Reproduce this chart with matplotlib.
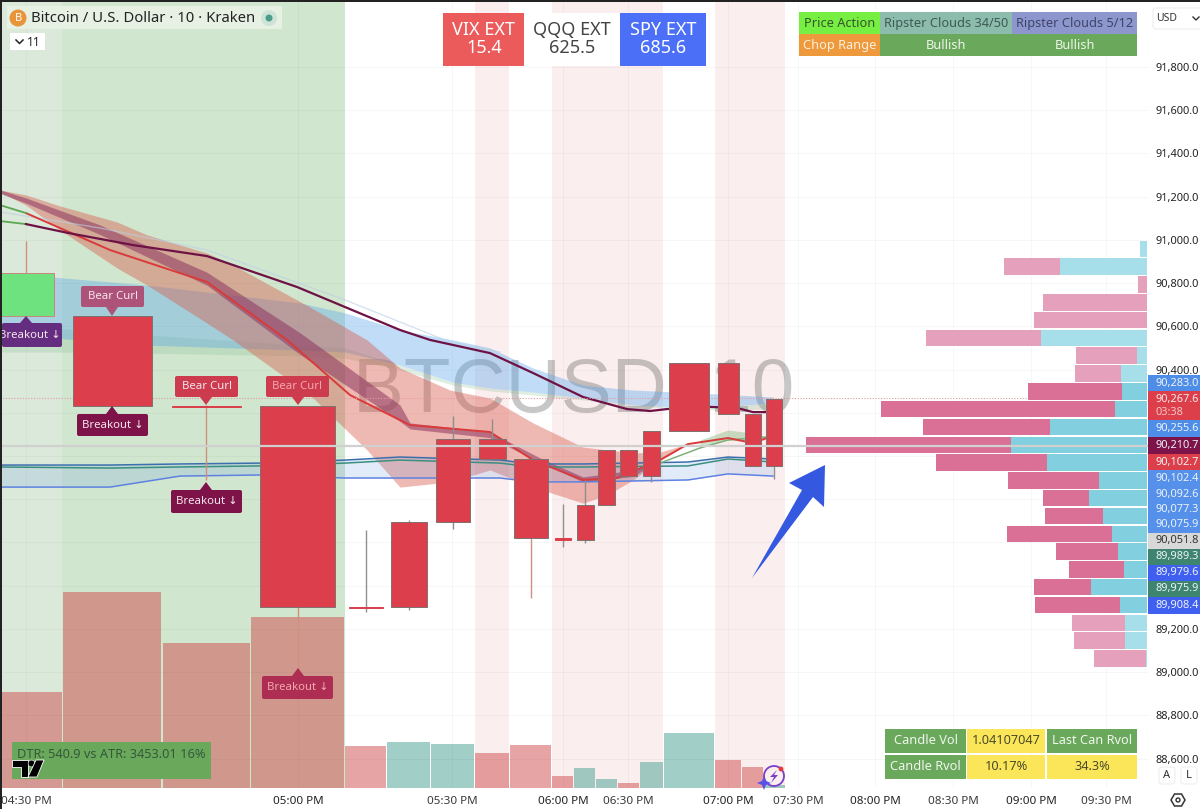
import matplotlib
matplotlib.use("Agg")
import matplotlib.pyplot as plt
from matplotlib.patches import Rectangle, Polygon, Circle, FancyBboxPatch
from matplotlib.ticker import FuncFormatter

FONT = ["Noto Sans", "DejaVu Sans"]
plt.rcParams["font.family"] = FONT

# ---- candles (x = chart position along the volume-weighted time axis, y = price)
candle_left = [0, 73, 172, 260, 349, 391, 436, 479, 514, 555, 577, 598, 620, 643, 669, 718, 745, 766]
candle_right = [54, 152, 241, 335, 383, 427, 470, 506, 548, 571, 594, 615, 637, 660, 709, 739, 761, 782]
candle_top = [90847, 90648, 90233, 90231, 89302, 89694, 90079, 90079, 89986, 89620, 89773, 90028, 90028, 90116, 90430, 90430, 90194, 90264]
candle_bot = [90648, 90231, 90228, 89301, 89298, 89301, 89694, 89986, 89620, 89611, 89611, 89773, 89907, 89907, 90116, 90194, 89954, 89954]
wick_x = [26, 112, 206, 298, 366, 409, 453, 492, 531, 563, 585, 606, 628, 651, 689, 728, 753, 774]
wick_high = [90995, 90648, 90236, 90231, 89657, 89704, 90185, 90171, 89986, 89778, 89889, 90028, 90028, 90116, 90430, 90430, 90194, 90264]
wick_low = [90648, 90231, 89889, 88963, 89278, 89287, 89662, 89986, 89343, 89579, 89597, 89773, 89907, 89880, 90116, 90194, 89954, 89893]

# ---- volume
vol_left = [0, 63, 163, 251, 345, 387, 431, 475, 510, 552, 574, 596, 618, 640, 664, 715, 742, 764]
vol_right = [62, 161, 250, 344, 386, 430, 474, 509, 551, 573, 595, 617, 639, 663, 714, 741, 763, 785]
vol_value = [96, 196, 145, 171, 42, 46, 44, 35, 43, 12, 20, 9, 5, 26, 55, 28, 21, 3]
vol_is_up = [0, 0, 0, 0, 0, 1, 1, 0, 0, 0, 1, 1, 0, 1, 1, 0, 0, 1]

# ---- moving averages
slow_x = [0, 26, 68, 133, 207, 297, 400, 430, 490, 533, 583, 627, 650, 667, 710, 737, 753, 767]
slow_y = [91087, 91073, 91032, 90976, 90925, 90782, 90583, 90537, 90476, 90384, 90273, 90217, 90208, 90217, 90227, 90222, 90203, 90203]
fast_x = [0, 26, 110, 207, 287, 350, 410, 490, 533, 583, 617, 660, 688, 728, 753, 767]
fast_y = [91161, 91124, 90953, 90805, 90537, 90282, 90143, 90111, 89981, 89889, 89898, 89981, 90055, 90083, 90060, 90083]
ribbon_x = [0, 26, 100, 207, 300, 400, 410, 490, 540, 583, 633, 660]
ribbon_top = [91231, 91194, 91069, 90850, 90570, 90236, 90153, 90111, 89991, 89903, 89935, 89981]
ribbon_bot = [91215, 91170, 91025, 90790, 90470, 90160, 90125, 90085, 89970, 89880, 89905, 89981]
red_x = [0, 26, 60, 117, 147, 207, 233, 310, 367, 400, 450, 490, 533, 583, 607, 633, 660, 687]
red_top = [91231, 91208, 91157, 91083, 91023, 90939, 90884, 90689, 90537, 90407, 90305, 90268, 90153, 90041, 90028, 90014, 90018, 90055]
red_bot = [91222, 91161, 91046, 90870, 90791, 90615, 90537, 90282, 90028, 89856, 89880, 89935, 89856, 89782, 89819, 89889, 89981, 90055]
blue_x = [0, 53, 147, 300, 345, 400, 453, 490, 533, 583, 633, 700, 773]
blue_top = [90828, 90828, 90791, 90708, 90662, 90583, 90537, 90500, 90407, 90328, 90305, 90291, 90273]
blue_bot = [90560, 90546, 90513, 90490, 90481, 90421, 90342, 90314, 90296, 90268, 90236, 90222, 90245]
pale_top = [90606, 90592, 90560, 90513, 90500, 90421, 90342, 90314, 90296, 90268, 90236, 90222, 90245]
pale_bot = [90481, 90481, 90476, 90463, 90453, 90398, 90328, 90301, 90282, 90259, 90231, 90213, 90217]
faint_x = [0, 100, 207, 345, 400, 450, 500]
faint_y = [91129, 91055, 90953, 90722, 90620, 90527, 90481]
low_x = [0, 110, 180, 260, 345, 400, 500, 533, 583, 688, 728, 773]
low_blue = [89856, 89856, 89907, 89912, 89898, 89898, 89898, 89880, 89880, 89889, 89917, 89907]
low_teal1 = [89958, 89958, 89963, 89967, 89981, 89995, 89981, 89963, 89963, 89972, 89995, 89986]
low_teal2 = [89949, 89944, 89949, 89954, 89967, 89981, 89967, 89949, 89949, 89954, 89986, 89972]
green_x = [660, 700, 728, 767]
green_y = [89967, 90037, 90074, 90088]
greenfill_x = [700, 728, 753, 767]
greenfill_top = [90074, 90120, 90106, 90088]
greenfill_bot = [90037, 90074, 90065, 90088]

# ---- volume profile
prof_price = [90958, 90876, 90793, 90711, 90629, 90546, 90464, 90381, 90299, 90217, 90134, 90052,
              89970, 89887, 89805, 89722, 89640, 89558, 89475, 89393, 89311, 89228, 89146, 89063]
prof_sell = [0, 56, 9, 104, 113, 115, 61, 46, 94, 234, 127, 205, 111, 91, 46, 58, 105, 62, 55, 57, 85, 53, 51, 52]
prof_buy = [7, 87, 0, 0, 0, 106, 10, 26, 25, 32, 97, 136, 100, 48, 58, 44, 35, 29, 23, 56, 27, 22, 22, 1]
prof_value_area = [0, 0, 0, 0, 0, 0, 0, 0, 1, 1, 1, 1, 1, 1, 1, 1, 1, 1, 1, 1, 1, 0, 0, 0]

# ---- axes labels
time_pos = [26, 298, 452, 563, 628, 728, 798, 875, 953, 1031, 1106]
time_lab = ["04:30 PM", "05:00 PM", "05:30 PM", "06:00 PM", "06:30 PM", "07:00 PM", "07:30 PM",
            "08:00 PM", "08:30 PM", "09:00 PM", "09:30 PM"]
time_bold = [0, 1, 0, 1, 0, 1, 0, 1, 0, 1, 0]
price_ticks = [91800, 91600, 91400, 91200, 91000, 90800, 90600, 90400, 89200, 89000, 88800, 88600]
last_price = 90048
close_price = 90267.6

pill_text = ["90,283.0", "90,267.6", "90,255.6", "90,210.7", "90,102.7", "90,102.4", "90,092.6", "90,077.3",
             "90,075.9", "90,051.8", "89,989.3", "89,979.6", "89,975.9", "89,908.4"]
pill_top = [375, 391, 420, 437, 454, 470, 486, 502, 517, 533, 549, 565, 581, 597]
pill_bot = [391, 420, 437, 454, 470, 486, 502, 517, 533, 549, 565, 581, 597, 614]
pill_col = ["#4f8ee8", "#dc3f4a", "#4f8ee8", "#7d1349", "#dc3f4a", "#5590ea", "#5590ea", "#5590ea", "#5590ea",
            "#d8d8d8", "#3e8570", "#3f5ff0", "#3e8570", "#3f5ff0"]

fig = plt.figure(figsize=(12, 8.09), dpi=100, facecolor="white")
W, H = 1200.0, 809.0
PLOT = [0, (H - 788) / H, 1149 / W, 788 / H]

# background axes: session bands and volume histogram
vx = fig.add_axes(PLOT)
vx.set_xlim(0, 1149)
vx.set_ylim(0, 788)
vx.axis("off")
vx.axvspan(0, 62, color="#dbe9da", lw=0, zorder=0)
vx.axvspan(62, 344.5, color="#d0e6ce", lw=0, zorder=0)
for a, b in [(475, 509), (552, 663), (715, 785)]:
    vx.axvspan(a, b, color="#fbeeee", lw=0, zorder=0)
for l, r, v, up in zip(vol_left, vol_right, vol_value, vol_is_up):
    vx.bar(l, v, width=r - l, align="edge", color="#479f93" if up else "#d14b4d", alpha=0.5, lw=0, zorder=2)

# price axes
ax = fig.add_axes(PLOT, facecolor="none")
ax.set_xlim(0, 1149)
ax.set_ylim(88463.5, 92110)
for s in ax.spines.values():
    s.set_visible(False)
ax.yaxis.tick_right()
ax.set_yticks(price_ticks)
ax.yaxis.set_major_formatter(FuncFormatter(lambda v, _: f"{v:,.1f}"))
ax.set_xticks(time_pos)
ax.set_xticklabels(time_lab)
ax.tick_params(axis="y", length=0, pad=4.4, labelsize=7.9, labelcolor="#222222")
ax.tick_params(axis="x", length=0, pad=6, labelsize=8.4, labelcolor="#3a3a3a")
for t, b in zip(ax.get_xticklabels(), time_bold):
    if b:
        t.set_fontweight("bold")
        t.set_color("#222222")
for v in price_ticks + [90200, 90000, 89800, 89600, 89400]:
    ax.axhline(v, color="#000000", alpha=0.03, lw=0.8, zorder=0.5)
for v in time_pos:
    ax.axvline(v, color="#000000", alpha=0.03, lw=0.8, zorder=0.5)

# watermark
ax.text(574, 90296, "BTCUSD, 10", family=["Liberation Sans"], fontsize=55, color="#555555", alpha=0.33,
        ha="center", va="center", zorder=1)

# clouds
ax.fill_between(blue_x, pale_top, pale_bot, color="#8ec29a", alpha=0.28, lw=0, zorder=2)
ax.fill_between(blue_x, blue_top, blue_bot, color="#5aa5ea", alpha=0.38, lw=0, zorder=2.1)
ax.fill_between(red_x, red_top, red_bot, color="#d9594a", alpha=0.42, lw=0, zorder=2.2)
ax.fill_between(low_x, low_teal1, low_blue, color="#6f9fe8", alpha=0.2, lw=0, zorder=2.3)
ax.fill_between(greenfill_x, greenfill_top, greenfill_bot, color="#7ab77a", alpha=0.4, lw=0, zorder=2.3)
ax.fill_between(ribbon_x, ribbon_top, ribbon_bot, color="#8c3560", alpha=0.55, lw=0, zorder=2.4)

# lines
ax.plot(faint_x, faint_y, color="#bcd0e6", lw=1, alpha=0.6, zorder=2.5)
ax.plot(low_x, low_blue, color="#5f82e0", lw=1.1, zorder=2.6)
ax.plot(low_x, low_teal1, color="#3b6fae", lw=1.1, zorder=2.6)
ax.plot(low_x, low_teal2, color="#3a8f80", lw=1.1, zorder=2.6)
ax.plot(green_x, green_y, color="#7fb07a", lw=1.1, zorder=2.6)
ax.plot(slow_x[:2], slow_y[:2], color="#5aa850", lw=1.3, zorder=2.7)
ax.plot(slow_x[1:], slow_y[1:], color="#6e1246", lw=1.6, zorder=2.7)
ax.plot(fast_x[:2], fast_y[:2], color="#5aa850", lw=1.3, zorder=2.7)
ax.plot(fast_x[1:], fast_y[1:], color="#d93a3a", lw=1.4, zorder=2.65)

# candles
for i, (l, r, t, b, wx, hi, lo) in enumerate(zip(candle_left, candle_right, candle_top, candle_bot, wick_x, wick_high, wick_low)):
    up = i == 0
    ax.plot([wx, wx], [lo, hi], color="#d09080" if i in (0, 2, 3, 8) else "#8f8f8f", lw=1, zorder=3, solid_capstyle="butt")
    thin = (t - b) < 15
    ax.bar(l, t - b, bottom=b, width=r - l, align="edge", color="#6ee27f" if up else "#dc3e4b",
           edgecolor="#c8867c" if up else ("#dc3e4b" if thin else "#80706f"), lw=0.7, zorder=3.2)

# profile
xr = 1147
for p, s, b, v in zip(prof_price, prof_sell, prof_buy, prof_value_area):
    ax.barh(p, b, left=xr - b, height=76, color="#82cfdf" if v else "#a6dfe9", lw=0, zorder=4)
    ax.barh(p, s, left=xr - b - s, height=76, color="#db7097" if v else "#e5a0bb", lw=0, zorder=4)

ax.axhline(last_price, color="#d0d0d0", lw=1.6, zorder=5)
ax.plot([0, 1030], [close_price, close_price], color="#e39aa0", lw=0.8, ls=(0, (1, 1.5)), zorder=2.8)

# ---- overlay in figure pixels for widgets
ui = fig.add_axes([0, 0, 1, 1], facecolor="none")
ui.set_xlim(0, W)
ui.set_ylim(H, 0)
ui.axis("off")
ui.set_zorder(10)


def rect(x0, x1, y0, y1, c, z=2, **k):
    ui.add_patch(Rectangle((x0, y0), x1 - x0, y1 - y0, facecolor=c, edgecolor="none", zorder=z, **k))


def txt(x, y, s, size=8.5, c="#333333", ha="center", **k):
    ui.text(x, y, s, fontsize=size, color=c, ha=ha, va="center", zorder=6, **k)


def bubble(x0, x1, y0, y1, col, s, tx, ty, tc="#f5e6ec", tcx=None):
    ui.add_patch(FancyBboxPatch((x0 + 2, y0 + 2), x1 - x0 - 4, y1 - y0 - 4, boxstyle="round,pad=2,rounding_size=2",
                                facecolor=col, edgecolor="none", zorder=5, clip_on=True))
    by = y1 if ty > y1 else y0
    ui.add_patch(Polygon([(tx - 6, by), (tx + 6, by), (tx, ty)], facecolor=col, edgecolor="none", zorder=5))
    txt((x0 + x1) / 2 if tcx is None else tcx, (y0 + y1) / 2, s, 8.2, tc)


# frame
rect(0, 2, 0, 809, "#222222", 8)
rect(0, 1200, 0, 2, "#222222", 8)

# legend top-left
rect(7, 282, 6, 29, "#e6f1e4", 3)
ui.add_patch(Circle((18, 18), 8.5, facecolor="#e8943a", edgecolor="none", zorder=4))
txt(18, 18, "B", 8, "white", fontweight="bold")
txt(31, 18, "Bitcoin / U.S. Dollar · 10 · Kraken", 10.7, "#222222", ha="left")
ui.add_patch(Circle((269, 18), 8, facecolor="#cfe3d8", edgecolor="none", zorder=4))
ui.add_patch(Circle((269, 18), 3.5, facecolor="#4a9d87", edgecolor="none", zorder=5))
rect(10, 44.5, 33, 50, "white", 3)
ui.plot([16, 19.5, 23], [40, 43.5, 40], color="#222222", lw=1.1, zorder=5)
txt(34, 42, "11", 8.8, "#222222")

# top badges
rect(443, 524, 13, 66, "#ec5b5b", 3)
rect(524, 620, 13, 66, "white", 3)
rect(620, 706, 13, 66, "#4b70f7", 3)
for x, a, b, c in [(484, "VIX EXT", "15.4", "white"), (572, "QQQ EXT", "625.5", "#444444"), (663, "SPY EXT", "685.6", "white")]:
    txt(x, 30, a, 13, c)
    txt(x, 48, b, 13, c)

# top-right table
rect(799, 880, 12, 34, "#76ee42", 3)
rect(880, 1012, 12, 34, "#8cbcab", 3)
rect(1012, 1137, 12, 34, "#8d97cd", 3)
rect(799, 880, 34, 56, "#ee9a3c", 3)
rect(880, 1137, 34, 56, "#6aa85c", 3)
txt(839.5, 23, "Price Action", 9.2, "#33552a")
txt(946, 23, "Ripster Clouds 34/50", 9.2, "#3d5a55")
txt(1074.5, 23, "Ripster Clouds 5/12", 9.2, "#3f4468")
txt(839.5, 45, "Chop Range", 9.2, "#fdf0dd")
txt(946, 45, "Bullish", 9.2, "#eef6ea")
txt(1075, 45, "Bullish", 9.2, "#eef6ea")

# USD selector
ui.add_patch(FancyBboxPatch((1153, 8), 50, 21, boxstyle="round,pad=0,rounding_size=3", facecolor="white",
                            edgecolor="#eeeeee", lw=0.8, zorder=4))
txt(1156, 18, "USD", 7.5, "#333333", ha="left")
ui.plot([1193, 1196, 1199], [17, 20, 17], color="#333333", lw=1, zorder=5)

# price pills
for s, a, b, c in zip(pill_text, pill_top, pill_bot, pill_col):
    rect(1148, 1200, a, b - 0.3, c, 4)
    if s == "90,267.6":
        txt(1155, a + 8, s, 7.9, "#f6e9ea", ha="left")
        txt(1155, a + 21.5, "03:38", 7.9, "#f3c5c8", ha="left")
    else:
        txt(1155, (a + b) / 2, s, 7.9, "#333333" if c == "#d8d8d8" else "#eef2f8", ha="left")

# signals
bubble(81, 144, 286, 307, "#ad5379", "Bear Curl", 112, 316)
bubble(2, 62, 323, 347, "#642d80", "Breakout ↓", 26, 316, tcx=30)
bubble(77, 148, 414, 436, "#7d1349", "Breakout ↓", 112, 406)
bubble(175, 238, 376, 397, "#cc3b4e", "Bear Curl", 206, 405)
bubble(171, 242, 490, 513, "#7d1349", "Breakout ↓", 206, 482)
bubble(266, 329, 376, 397, "#cc3b4e", "Bear Curl", 298, 405, "#f3a8b0")
bubble(262, 333, 676, 699, "#ae2d52", "Breakout ↓", 298, 668, "#f3a8b0")

# arrow
ui.add_patch(Polygon([(752, 578), (802, 490), (789, 483), (825, 465), (824, 507), (813, 497), (752, 578)],
                     facecolor="#3558e0", edgecolor="none", zorder=6))

# DTR
rect(12, 211, 742, 779, "#6aa85c", 3)
txt(17, 754, "DTR: 540.9 vs ATR: 3453.01 16%", 9.2, "#35593a", ha="left")
# logo
ui.add_patch(Polygon([(12, 760), (28, 760), (28, 777), (21, 777), (21, 767), (12, 767)], facecolor="black",
                     edgecolor="white", lw=0.6, zorder=7))
ui.add_patch(Circle((31.5, 763.5), 3.4, facecolor="black", edgecolor="white", lw=0.4, zorder=7))
ui.add_patch(Polygon([(36, 760), (44, 760), (37, 777), (28, 777)], facecolor="black", edgecolor="white", lw=0.6, zorder=7))

# bottom-right table
for a, b, c, d, col, s, tc in [
    (885, 966, 729, 753, "#6aa85c", "Candle Vol", "#f1f7ee"),
    (967, 1045, 729, 753, "#fbe65a", "1.04107047", "#4a4a2a"),
    (1047, 1137, 729, 753, "#6aa85c", "Last Can Rvol", "#f1f7ee"),
    (885, 966, 755, 779, "#6aa85c", "Candle Rvol", "#f1f7ee"),
    (967, 1045, 755, 779, "#fbe65a", "10.17%", "#4a4a2a"),
    (1047, 1137, 755, 779, "#fbe65a", "34.3%", "#4a4a2a"),
]:
    rect(a, b, c, d, col, 3)
    txt((a + b) / 2, (c + d) / 2, s, 9.2, tc)

# right-bottom buttons
rect(1150, 1200, 766, 788, "white", 4)
for x, s in [(1167, "A"), (1189, "L")]:
    ui.add_patch(FancyBboxPatch((x - 8, 767), 16, 17, boxstyle="round,pad=0,rounding_size=3", facecolor="white",
                                edgecolor="#eeeeee", lw=0.8, zorder=5))
    txt(x, 775.5, s, 8, "#333333")
ui.add_patch(Polygon([(1171, 800), (1174.5, 794), (1181.5, 794), (1185, 800), (1181.5, 806), (1174.5, 806)],
                     facecolor="white", edgecolor="#333333", lw=1.1, zorder=5))
ui.add_patch(Circle((1178, 800), 2, facecolor="white", edgecolor="#333333", lw=1, zorder=6))

# assistant icon
ui.add_patch(Circle((774, 776), 10, facecolor="none", edgecolor="#7a3fc8", lw=1.3, zorder=7))
ui.add_patch(Polygon([(777, 770), (770, 777), (774, 777), (771, 783), (778, 775), (774, 775)], facecolor="#7a3fc8",
                     edgecolor="none", zorder=7))
ui.add_patch(Polygon([(764, 776), (766, 781), (771, 783), (766, 785), (764, 790), (762, 785), (757, 783), (762, 781)],
                     facecolor="#5a50e8", edgecolor="none", zorder=7))
ui.add_patch(Circle((781, 769), 2.4, facecolor="#e23b3b", edgecolor="none", zorder=8))

fig.savefig("out.png", dpi=100)
